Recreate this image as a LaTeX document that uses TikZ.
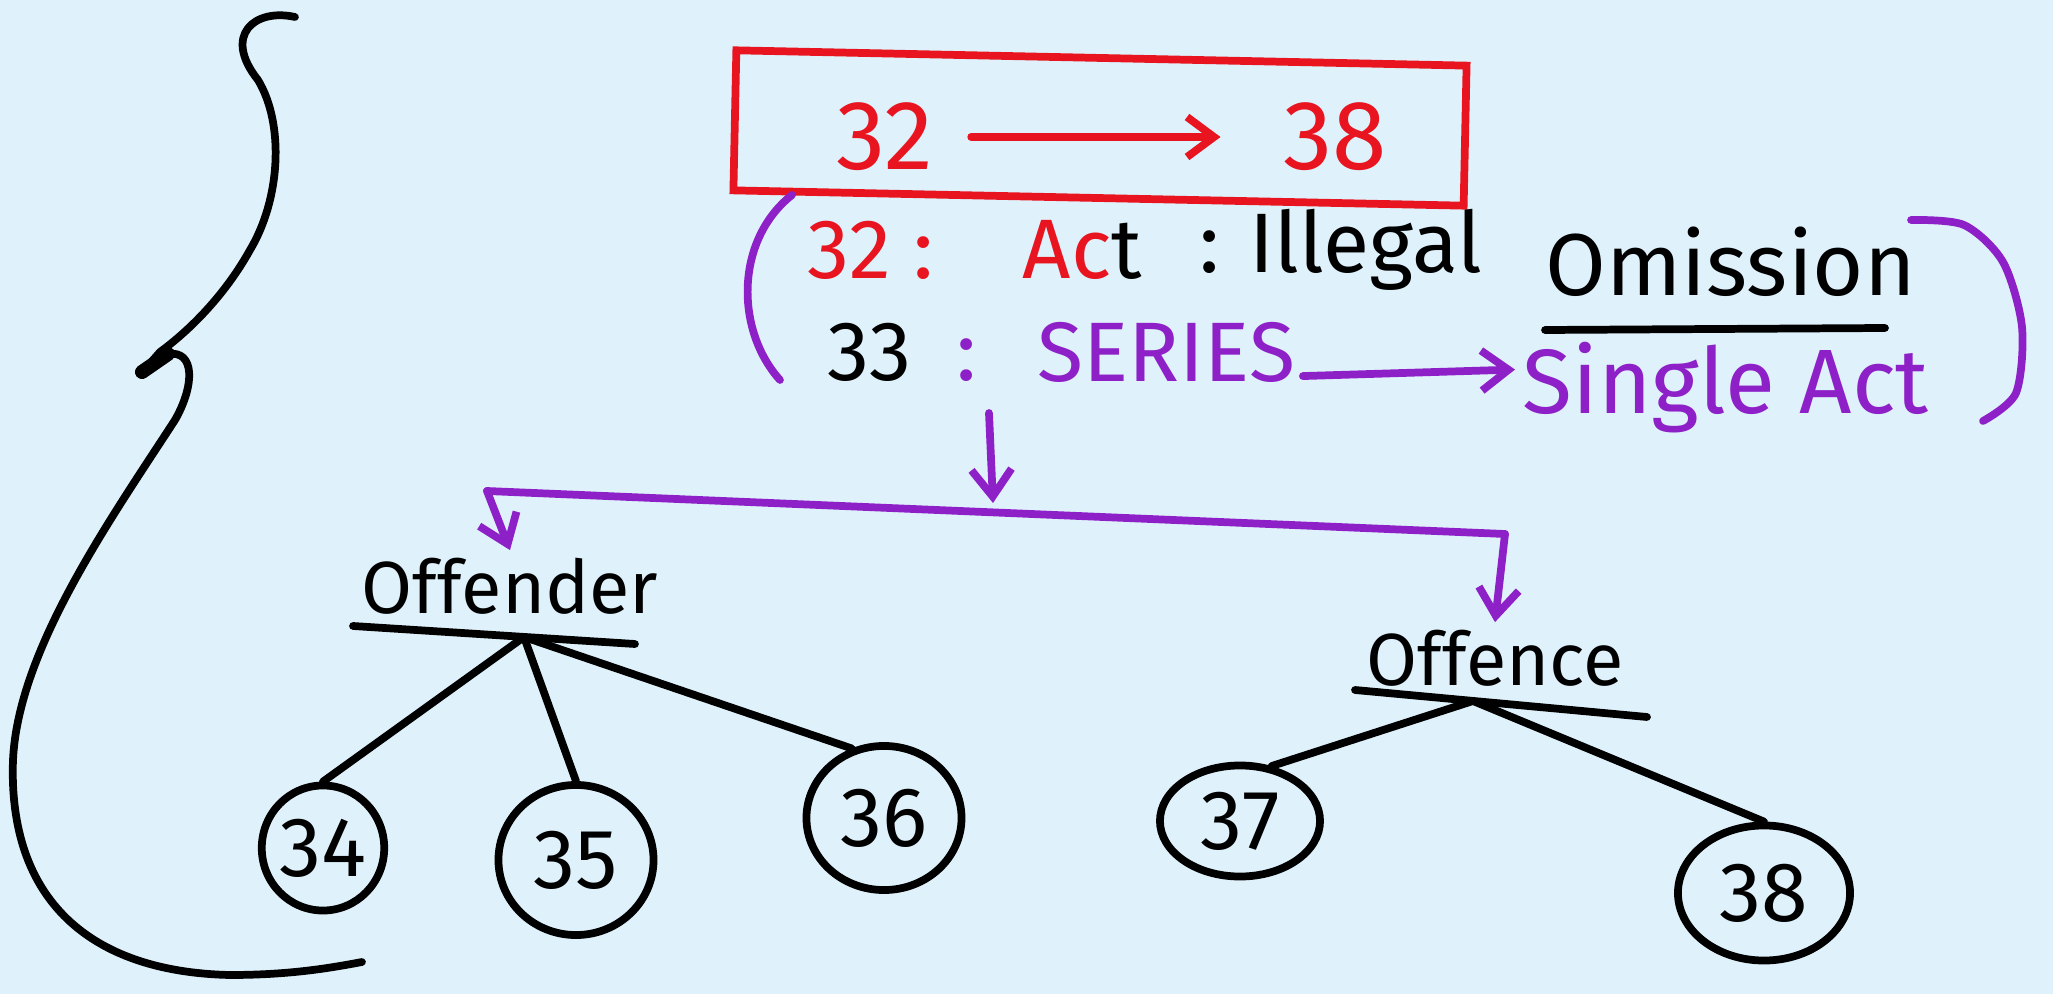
\documentclass[tikz,border=0pt]{standalone}
\usepackage{fontspec}
\setmainfont{Fira Sans}
\usetikzlibrary{arrows.meta,positioning,shapes.geometric}
\definecolor{paper}{RGB}{223,242,251}
\definecolor{inkred}{RGB}{232,20,32}
\definecolor{inkpurple}{RGB}{142,32,200}

\begin{document}
\begin{tikzpicture}[
    x=0.01cm, y=-0.01cm,
    ink/.style={line width=2.2pt, line cap=round, line join=round},
    txt/.style={font=\fontsize{24}{28}\selectfont, inner sep=2pt},
    lbl/.style={font=\fontsize{21}{25}\selectfont, inner sep=2pt},
    num/.style={ellipse, draw, ink, font=\fontsize{24}{28}\selectfont, inner sep=0pt},
    parr/.style={ink, inkpurple, -{Straight Barb[length=2.7mm, width=4mm]}},
    rarr/.style={ink, inkred, -{Straight Barb[length=2.7mm, width=4mm]}},
]
    \fill[paper] (0,0) rectangle (2053,994);
    \useasboundingbox (0,0) rectangle (2053,994);

    % big brace on the left
    \draw[ink] (295,17) .. controls (255,8) and (222,35) .. (258,80)
        .. controls (285,125) and (280,200) .. (250,250)
        .. controls (225,295) and (190,330) .. (160,352) -- (146,368);
    \draw[line width=4pt, line cap=round] (142,372) -- (168,354);
    \draw[ink] (168,354) .. controls (195,350) and (195,385) .. (175,420)
        .. controls (110,520) and (18,650) .. (13,760)
        .. controls (8,900) and (90,972) .. (230,975)
        .. controls (290,975) and (330,968) .. (362,962);

    % range in the red box
    \node[draw=inkred, line width=2.2pt, minimum width=7.3cm, minimum height=1.4cm, rotate=-1.2] (rangebox) at (1100,128) {};
    \node[txt, font=\fontsize{28}{32}\selectfont, text=inkred] (first) at (885,137) {32};
    \node[txt, font=\fontsize{28}{32}\selectfont, text=inkred] (last) at (1335,137) {38};
    \draw[rarr, shorten <=0.3cm, shorten >=0.55cm] (first) -- (last);

    % definitions
    \node[txt, anchor=west, text=inkred] (actnum) at (800,250) {32 :};
    \node[txt, anchor=west, text=inkred] (act) at (1015,250) {Ac\textcolor{black}{t}};
    \node[txt, anchor=west] (illegal) at (1192,250) {: Illegal};
    \node[txt, font=\fontsize{25}{29}\selectfont, anchor=west] (omission) at (1538,262) {Omission};
    \draw[ink] (1545,330) -- (1885,328);
    \node[txt, anchor=west] (seriesnum) at (820,352) {33\hspace{0.45cm}\textcolor{inkpurple}{:}};
    \node[txt, anchor=west, text=inkpurple] (series) at (1030,352) {SERIES};
    \node[txt, font=\fontsize{26}{30}\selectfont, anchor=west, text=inkpurple] (single) at (1515,388) {Single Act};
    \draw[parr] (series.-10) -- (single.175);

    \draw[ink, inkpurple] (792,195) .. controls (735,240) and (735,330) .. (780,380);
    \draw[ink, inkpurple] plot[smooth] coordinates {(1911,220) (1964,225) (2003,262) (2022,327) (2016,393) (1983,421)};

    % split into the two groups
    \coordinate (drop) at (989,413);
    \coordinate (dropend) at (993,503);
    \coordinate (forkL) at (487,491);
    \coordinate (forkR) at (1505,534);
    \node[lbl] (offender) at (510,586) {Offender};
    \node[lbl] (offence) at (1495,658) {Offence};
    \draw[parr] (drop) -- (dropend);
    \draw[ink, inkpurple] (forkL) -- (forkR);
    \draw[parr] (forkL) -- (offender.north);
    \draw[parr] (forkR) -- (offence.north);

    % offender branch
    \draw[ink] (353,626) -- (635,644);
    \coordinate (offenderfork) at (524,637);
    \node[num, minimum width=1.12cm, minimum height=1.25cm] (n34) at (323,848) {34};
    \node[num, minimum width=1.55cm, minimum height=1.5cm] (n35) at (576,860) {35};
    \node[num, minimum width=1.55cm, minimum height=1.44cm] (n36) at (884,818) {36};
    \draw[ink] (offenderfork) -- (n34.north);
    \draw[ink] (offenderfork) -- (n35.north);
    \draw[ink] (offenderfork) -- (n36.115);

    % offence branch
    \draw[ink] (1355,690) -- (1647,717);
    \coordinate (offencefork) at (1473,701);
    \node[num, minimum width=1.6cm, minimum height=1.11cm] (n37) at (1240,821) {37};
    \node[num, minimum width=1.72cm, minimum height=1.35cm] (n38) at (1764,893) {38};
    \draw[ink] (offencefork) -- (n37.60);
    \draw[ink] (offencefork) -- (n38.north);
\end{tikzpicture}
\end{document}
